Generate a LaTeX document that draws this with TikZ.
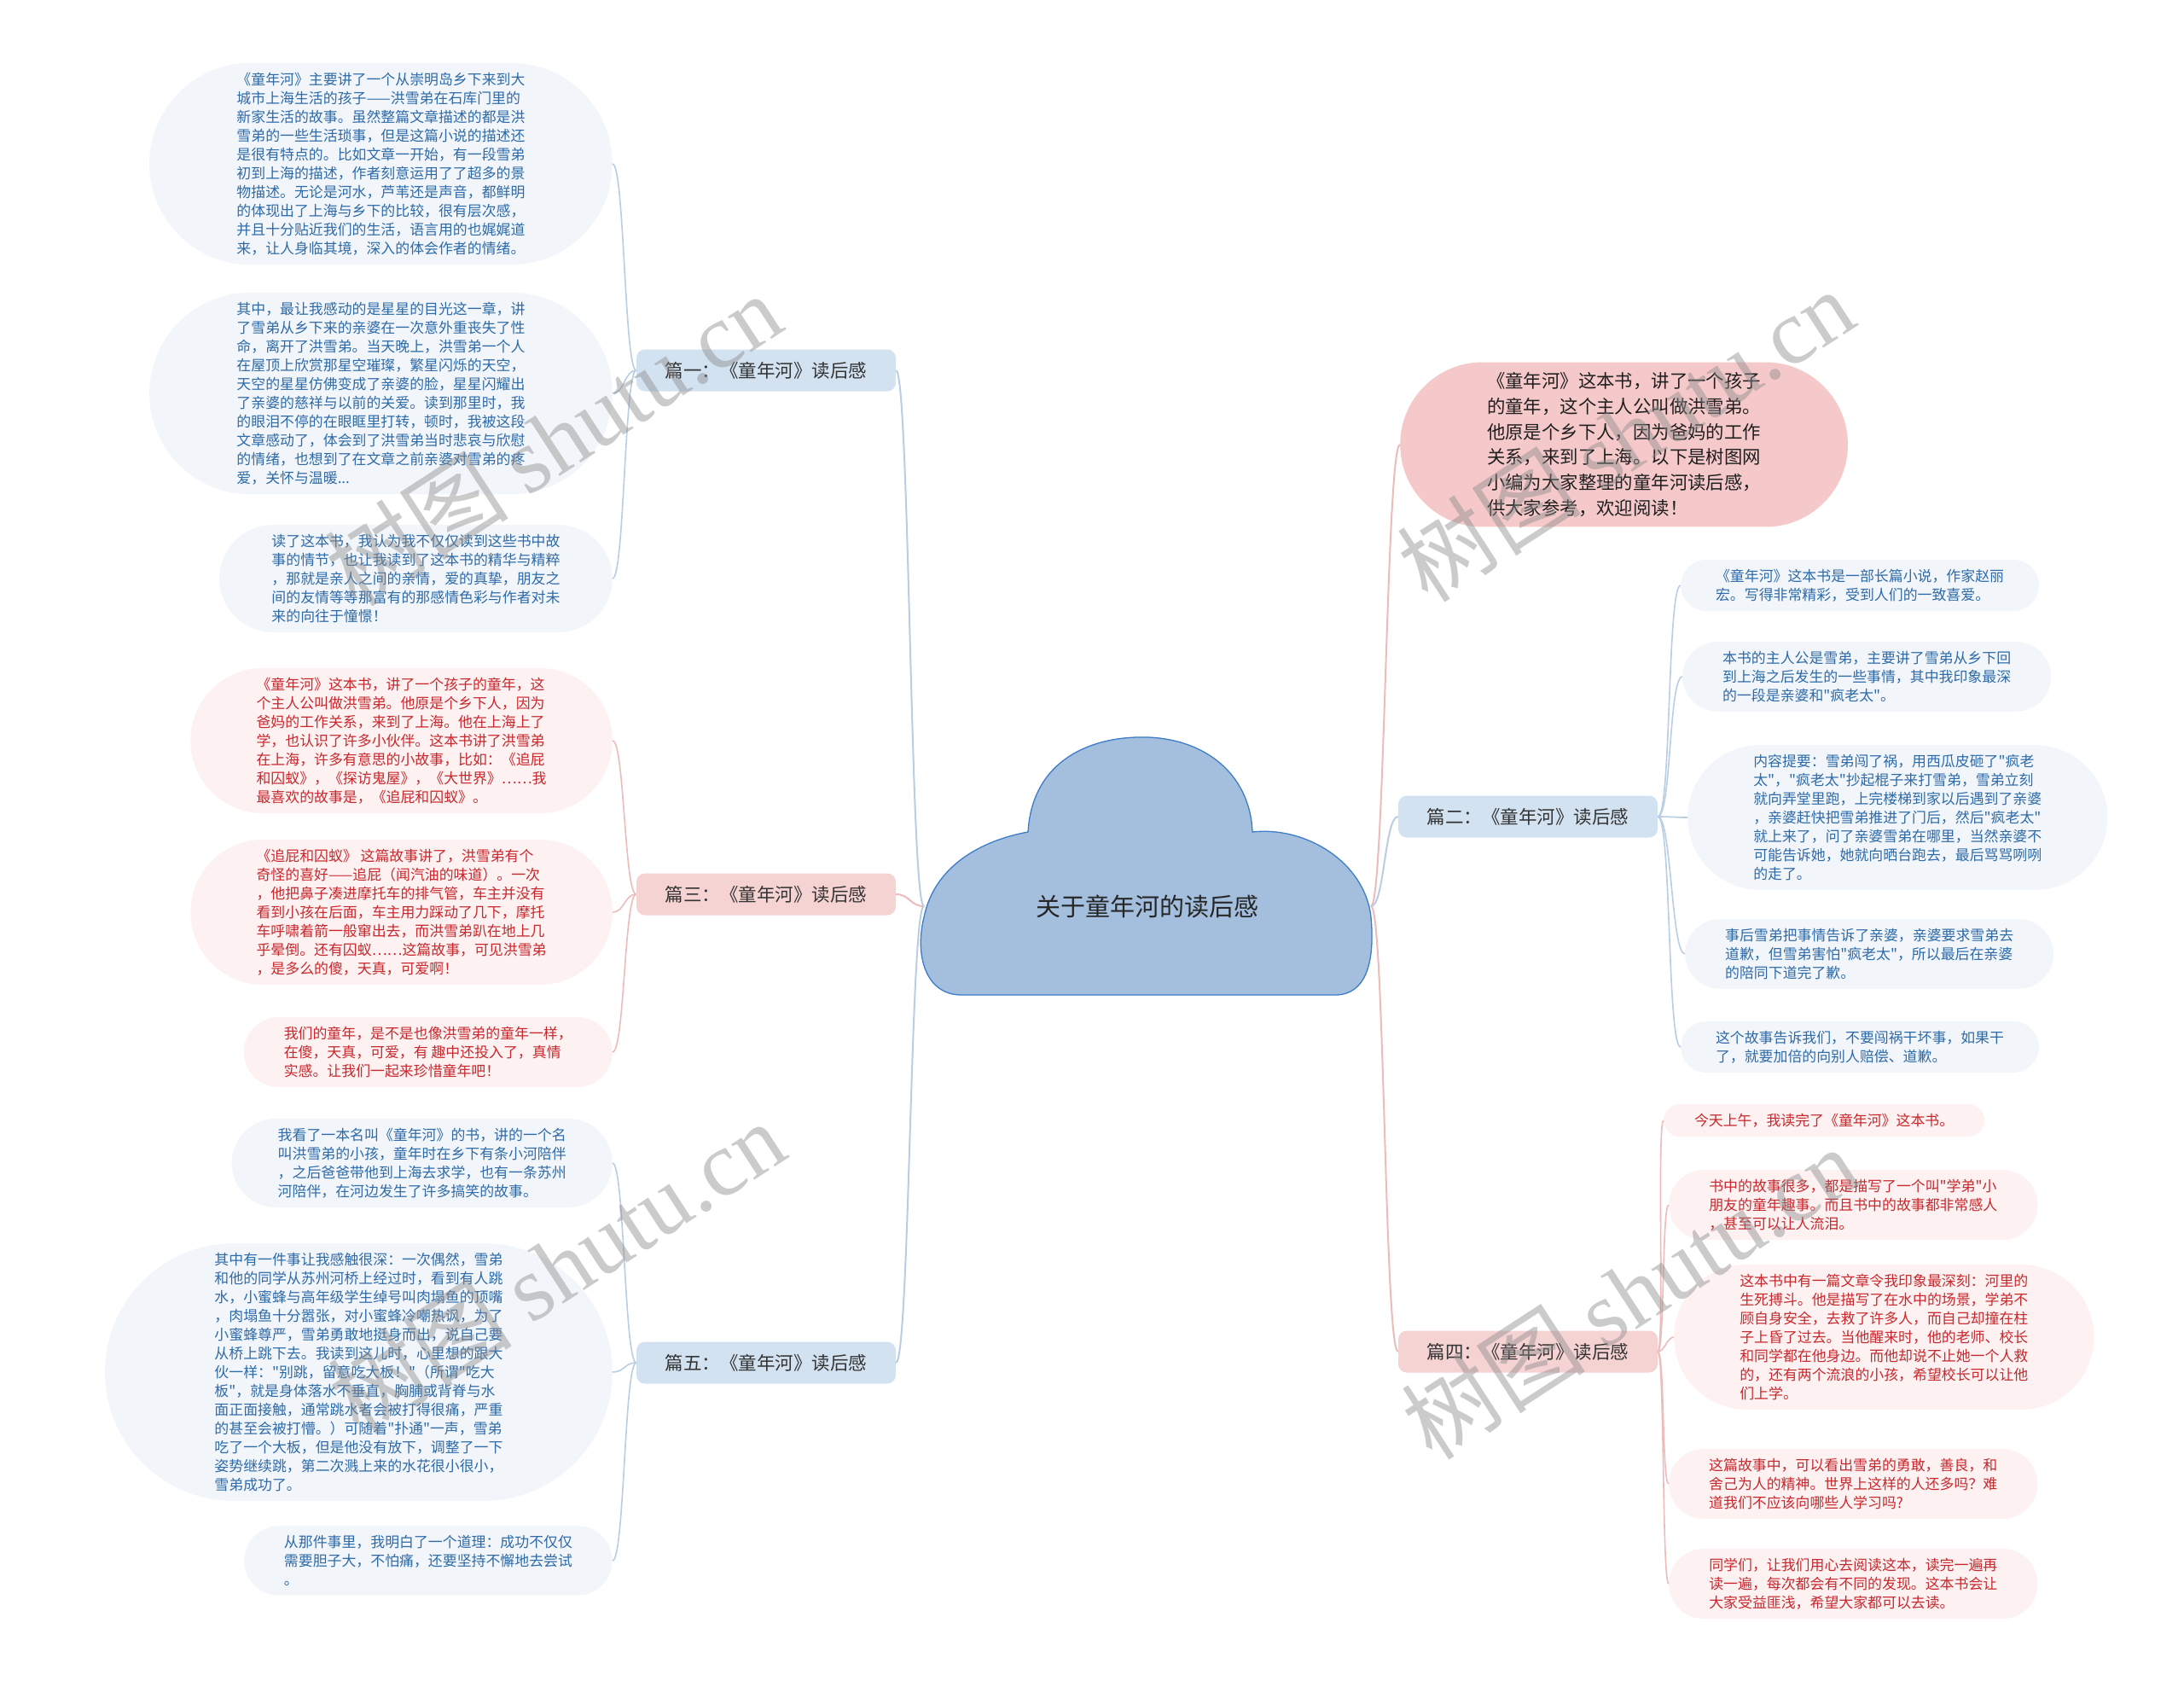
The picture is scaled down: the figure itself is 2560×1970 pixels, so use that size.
\documentclass[tikz,border=0pt]{standalone}
\usepackage{fontspec}
\setmainfont{Noto Sans CJK SC}
\newfontfamily\cjk{Noto Sans CJK SC}
\newfontfamily\wmfont{Liberation Serif}
\usetikzlibrary{shapes.misc}
\definecolor{cloudbg}{HTML}{A3BFDD}
\definecolor{cloudln}{HTML}{3D7CC9}
\definecolor{bluebg}{HTML}{D3E2F1}
\definecolor{redbg}{HTML}{F6D3D3}
\definecolor{leafbg}{HTML}{F2F6FB}
\definecolor{leafred}{HTML}{FDF1F1}
\definecolor{bluetxt}{HTML}{2D6AA8}
\definecolor{redtxt}{HTML}{C8282D}
\definecolor{introbg}{HTML}{F5C8C9}
\definecolor{linkb}{HTML}{B9CDE3}
\definecolor{linkr}{HTML}{ECBCBC}

\begin{document}
\begin{tikzpicture}[x=1pt, y=-1pt,
  leaf/.style={rounded rectangle, inner xsep=34pt, inner ysep=11pt, align=left,
    font=\cjk\fontsize{16.9}{22}\selectfont},
  leafblue/.style={leaf, fill=leafbg, text=bluetxt},
  leafredd/.style={leaf, fill=leafred, text=redtxt},
  branchbox/.style={rectangle, rounded corners=10pt, minimum width=304pt,
    minimum height=49pt, font=\cjk\fontsize{21.5}{26}\selectfont, text=black!80},
  linkblue/.style={draw=linkb, line width=1.6pt},
  linkred/.style={draw=linkr, line width=1.6pt},
  watermark/.style={rotate=33, text=black!45, opacity=0.45,
    font=\fontsize{108}{108}\selectfont}]
  \useasboundingbox (0,0) rectangle (2560,1970);
  \fill[white] (0,0) rectangle (2560,1970);
  % nube central
  \draw[fill=cloudbg, draw=cloudln, line width=1.3pt]
    (1127,1166) .. controls (1085,1166) and (1072,1120) .. (1083,1075)
    .. controls (1095,1015) and (1150,985) .. (1205,975)
    .. controls (1210,890) and (1280,862) .. (1345,864)
    .. controls (1410,866) and (1465,905) .. (1468,975)
    .. controls (1530,968) and (1600,1010) .. (1607,1075)
    .. controls (1612,1130) and (1600,1166) .. (1565,1166) -- cycle;
  \node[font=\cjk\fontsize{29}{32}\selectfont, text=black!85] (root) at (1345,1062) {关于童年河的读后感};
  \coordinate (root-w) at (1083,1062);
  \coordinate (root-e) at (1607,1062);
  % ramas
  \node[branchbox, fill=bluebg] (p1) at (898,434) {篇一：《童年河》读后感};
  \node[branchbox, fill=redbg] (p3) at (898,1048) {篇三：《童年河》读后感};
  \node[branchbox, fill=bluebg] (p5) at (898,1597) {篇五：《童年河》读后感};
  \node[branchbox, fill=bluebg] (p2) at (1791,957) {篇二：《童年河》读后感};
  \node[branchbox, fill=redbg] (p4) at (1791,1584) {篇四：《童年河》读后感};
  % introduccion
  \node[rounded rectangle, fill=introbg, text=black!88, align=left, inner xsep=52pt, inner ysep=12pt,
    font=\cjk\fontsize{21.4}{29.7}\selectfont, anchor=west] (intro) at (1641,521)
    {《童年河》这本书，讲了一个孩子\\
    的童年，这个主人公叫做洪雪弟。\\
    他原是个乡下人，因为爸妈的工作\\
    关系，来到了上海。以下是树图网\\
    小编为大家整理的童年河读后感，\\
    供大家参考，欢迎阅读！};
  % hojas de 篇一
  \node[leafblue, anchor=east] (l11) at (718,192)
    {《童年河》主要讲了一个从崇明岛乡下来到大\\
    城市上海生活的孩子——洪雪弟在石库门里的\\
    新家生活的故事。虽然整篇文章描述的都是洪\\
    雪弟的一些生活琐事，但是这篇小说的描述还\\
    是很有特点的。比如文章一开始，有一段雪弟\\
    初到上海的描述，作者刻意运用了了超多的景\\
    物描述。无论是河水，芦苇还是声音，都鲜明\\
    的体现出了上海与乡下的比较，很有层次感，\\
    并且十分贴近我们的生活，语言用的也娓娓道\\
    来，让人身临其境，深入的体会作者的情绪。};
  \node[leafblue, anchor=east] (l12) at (718,461)
    {其中，最让我感动的是星星的目光这一章，讲\\
    了雪弟从乡下来的亲婆在一次意外重丧失了性\\
    命，离开了洪雪弟。当天晚上，洪雪弟一个人\\
    在屋顶上欣赏那星空璀璨，繁星闪烁的天空，\\
    天空的星星仿佛变成了亲婆的脸，星星闪耀出\\
    了亲婆的慈祥与以前的关爱。读到那里时，我\\
    的眼泪不停的在眼眶里打转，顿时，我被这段\\
    文章感动了，体会到了洪雪弟当时悲哀与欣慰\\
    的情绪，也想到了在文章之前亲婆对雪弟的疼\\
    爱，关怀与温暖...};
  \node[leafblue, anchor=east] (l13) at (718,678)
    {读了这本书，我认为我不仅仅读到这些书中故\\
    事的情节，也让我读到了这本书的精华与精粹\\
    ，那就是亲人之间的亲情，爱的真挚，朋友之\\
    间的友情等等那富有的那感情色彩与作者对未\\
    来的向往于憧憬！};
  % hojas de 篇三
  \node[leafredd, anchor=east] (l31) at (718,868)
    {《童年河》这本书，讲了一个孩子的童年，这\\
    个主人公叫做洪雪弟。他原是个乡下人，因为\\
    爸妈的工作关系，来到了上海。他在上海上了\\
    学，也认识了许多小伙伴。这本书讲了洪雪弟\\
    在上海，许多有意思的小故事，比如：《追屁\\
    和囚蚁》，《探访鬼屋》，《大世界》……我\\
    最喜欢的故事是，《追屁和囚蚁》。};
  \node[leafredd, anchor=east] (l32) at (718,1069)
    {《追屁和囚蚁》 这篇故事讲了，洪雪弟有个\\
    奇怪的喜好——追屁（闻汽油的味道）。一次\\
    ，他把鼻子凑进摩托车的排气管，车主并没有\\
    看到小孩在后面，车主用力踩动了几下，摩托\\
    车呼啸着箭一般窜出去，而洪雪弟趴在地上几\\
    乎晕倒。还有囚蚁……这篇故事，可见洪雪弟\\
    ，是多么的傻，天真，可爱啊！};
  \node[leafredd, anchor=east] (l33) at (718,1233)
    {我们的童年，是不是也像洪雪弟的童年一样，\\
    在傻，天真，可爱，有 趣中还投入了，真情\\
    实感。让我们一起来珍惜童年吧！};
  % hojas de 篇五
  \node[leafblue, anchor=east] (l51) at (718,1363)
    {我看了一本名叫《童年河》的书，讲的一个名\\
    叫洪雪弟的小孩，童年时在乡下有条小河陪伴\\
    ，之后爸爸带他到上海去求学，也有一条苏州\\
    河陪伴，在河边发生了许多搞笑的故事。};
  \node[leafblue, anchor=east] (l52) at (718,1608)
    {其中有一件事让我感触很深：一次偶然，雪弟\\
    和他的同学从苏州河桥上经过时，看到有人跳\\
    水，小蜜蜂与高年级学生绰号叫肉塌鱼的顶嘴\\
    ，肉塌鱼十分嚣张，对小蜜蜂冷嘲热讽，为了\\
    小蜜蜂尊严，雪弟勇敢地挺身而出，说自己要\\
    从桥上跳下去。我读到这儿时，心里想的跟大\\
    伙一样："别跳，留意吃大板！"（所谓"吃大\\
    板"，就是身体落水不垂直，胸脯或背脊与水\\
    面正面接触，通常跳水者会被打得很痛，严重\\
    的甚至会被打懵。）可随着"扑通"一声，雪弟\\
    吃了一个大板，但是他没有放下，调整了一下\\
    姿势继续跳，第二次溅上来的水花很小很小，\\
    雪弟成功了。};
  \node[leafblue, anchor=east] (l53) at (718,1829)
    {从那件事里，我明白了一个道理：成功不仅仅\\
    需要胆子大，不怕痛，还要坚持不懈地去尝试\\
    。};
  % hojas de 篇二
  \node[leafblue, anchor=west] (r21) at (1970,686)
    {《童年河》这本书是一部长篇小说，作家赵丽\\
    宏。写得非常精彩，受到人们的一致喜爱。};
  \node[leafblue, anchor=west] (r22) at (1972,793)
    {本书的主人公是雪弟，主要讲了雪弟从乡下回\\
    到上海之后发生的一些事情，其中我印象最深\\
    的一段是亲婆和"疯老太"。};
  \node[leafblue, anchor=west] (r23) at (1978,958)
    {内容提要：雪弟闯了祸，用西瓜皮砸了"疯老\\
    太"，"疯老太"抄起棍子来打雪弟，雪弟立刻\\
    就向弄堂里跑，上完楼梯到家以后遇到了亲婆\\
    ，亲婆赶快把雪弟推进了门后，然后"疯老太"\\
    就上来了，问了亲婆雪弟在哪里，当然亲婆不\\
    可能告诉她，她就向晒台跑去，最后骂骂咧咧\\
    的走了。};
  \node[leafblue, anchor=west] (r24) at (1975,1118)
    {事后雪弟把事情告诉了亲婆，亲婆要求雪弟去\\
    道歉，但雪弟害怕"疯老太"，所以最后在亲婆\\
    的陪同下道完了歉。};
  \node[leafblue, anchor=west] (r25) at (1970,1227)
    {这个故事告诉我们，不要闯祸干坏事，如果干\\
    了，就要加倍的向别人赔偿、道歉。};
  % hojas de 篇四
  \node[leafredd, anchor=west] (r41) at (1950,1313)
    {今天上午，我读完了《童年河》这本书。};
  \node[leafredd, anchor=west] (r42) at (1956,1412)
    {书中的故事很多，都是描写了一个叫"学弟"小\\
    朋友的童年趣事。而且书中的故事都非常感人\\
    ，甚至可以让人流泪。};
  \node[leafredd, anchor=west] (r43) at (1962,1567)
    {这本书中有一篇文章令我印象最深刻：河里的\\
    生死搏斗。他是描写了在水中的场景，学弟不\\
    顾自身安全，去救了许多人，而自己却撞在柱\\
    子上昏了过去。当他醒来时，他的老师、校长\\
    和同学都在他身边。而他却说不止她一个人救\\
    的，还有两个流浪的小孩，希望校长可以让他\\
    们上学。};
  \node[leafredd, anchor=west] (r44) at (1956,1739)
    {这篇故事中，可以看出雪弟的勇敢，善良，和\\
    舍己为人的精神。世界上这样的人还多吗？难\\
    道我们不应该向哪些人学习吗?};
  \node[leafredd, anchor=west] (r45) at (1956,1856)
    {同学们，让我们用心去阅读这本，读完一遍再\\
    读一遍，每次都会有不同的发现。这本书会让\\
    大家受益匪浅，希望大家都可以去读。};
  % conectores del centro
  \draw[linkblue, line width=2pt] (root-w) .. controls +(-16,0) and +(16,0) .. (p1.east);
  \draw[linkred, line width=2pt] (root-w) .. controls +(-16,0) and +(16,0) .. (p3.east);
  \draw[linkblue, line width=2pt] (root-w) .. controls +(-16,0) and +(16,0) .. (p5.east);
  \draw[linkred, line width=2pt] (root-e) .. controls +(16,0) and +(-16,0) .. (intro.west);
  \draw[linkblue, line width=2pt] (root-e) .. controls +(16,0) and +(-16,0) .. (p2.west);
  \draw[linkred, line width=2pt] (root-e) .. controls +(16,0) and +(-16,0) .. (p4.west);
  % conectores de las hojas
  \draw[linkblue] (p1.west) .. controls +(-14,0) and +(14,0) .. (l11.east);
  \draw[linkblue] (p1.west) .. controls +(-14,0) and +(14,0) .. (l12.east);
  \draw[linkblue] (p1.west) .. controls +(-14,0) and +(14,0) .. (l13.east);
  \draw[linkred] (p3.west) .. controls +(-14,0) and +(14,0) .. (l31.east);
  \draw[linkred] (p3.west) .. controls +(-14,0) and +(14,0) .. (l32.east);
  \draw[linkred] (p3.west) .. controls +(-14,0) and +(14,0) .. (l33.east);
  \draw[linkblue] (p5.west) .. controls +(-14,0) and +(14,0) .. (l51.east);
  \draw[linkblue] (p5.west) .. controls +(-14,0) and +(14,0) .. (l52.east);
  \draw[linkblue] (p5.west) .. controls +(-14,0) and +(14,0) .. (l53.east);
  \draw[linkblue] (p2.east) .. controls +(16,0) and +(-16,0) .. (r21.west);
  \draw[linkblue] (p2.east) .. controls +(16,0) and +(-16,0) .. (r22.west);
  \draw[linkblue] (p2.east) .. controls +(16,0) and +(-16,0) .. (r23.west);
  \draw[linkblue] (p2.east) .. controls +(16,0) and +(-16,0) .. (r24.west);
  \draw[linkblue] (p2.east) .. controls +(16,0) and +(-16,0) .. (r25.west);
  \draw[linkred] (p4.east) .. controls +(8,0) and +(-8,0) .. (r41.west);
  \draw[linkred] (p4.east) .. controls +(8,0) and +(-8,0) .. (r42.west);
  \draw[linkred] (p4.east) .. controls +(8,0) and +(-8,0) .. (r43.west);
  \draw[linkred] (p4.east) .. controls +(8,0) and +(-8,0) .. (r44.west);
  \draw[linkred] (p4.east) .. controls +(8,0) and +(-8,0) .. (r45.west);
  % marcas de agua
  \node[watermark] (wm1) at (648,515) {树图 {\wmfont shutu.cn}};
  \node[watermark] (wm2) at (1905,510) {树图 {\wmfont shutu.cn}};
  \node[watermark] (wm3) at (652,1485) {树图 {\wmfont shutu.cn}};
  \node[watermark] (wm4) at (1910,1515) {树图 {\wmfont shutu.cn}};
\end{tikzpicture}
\end{document}
